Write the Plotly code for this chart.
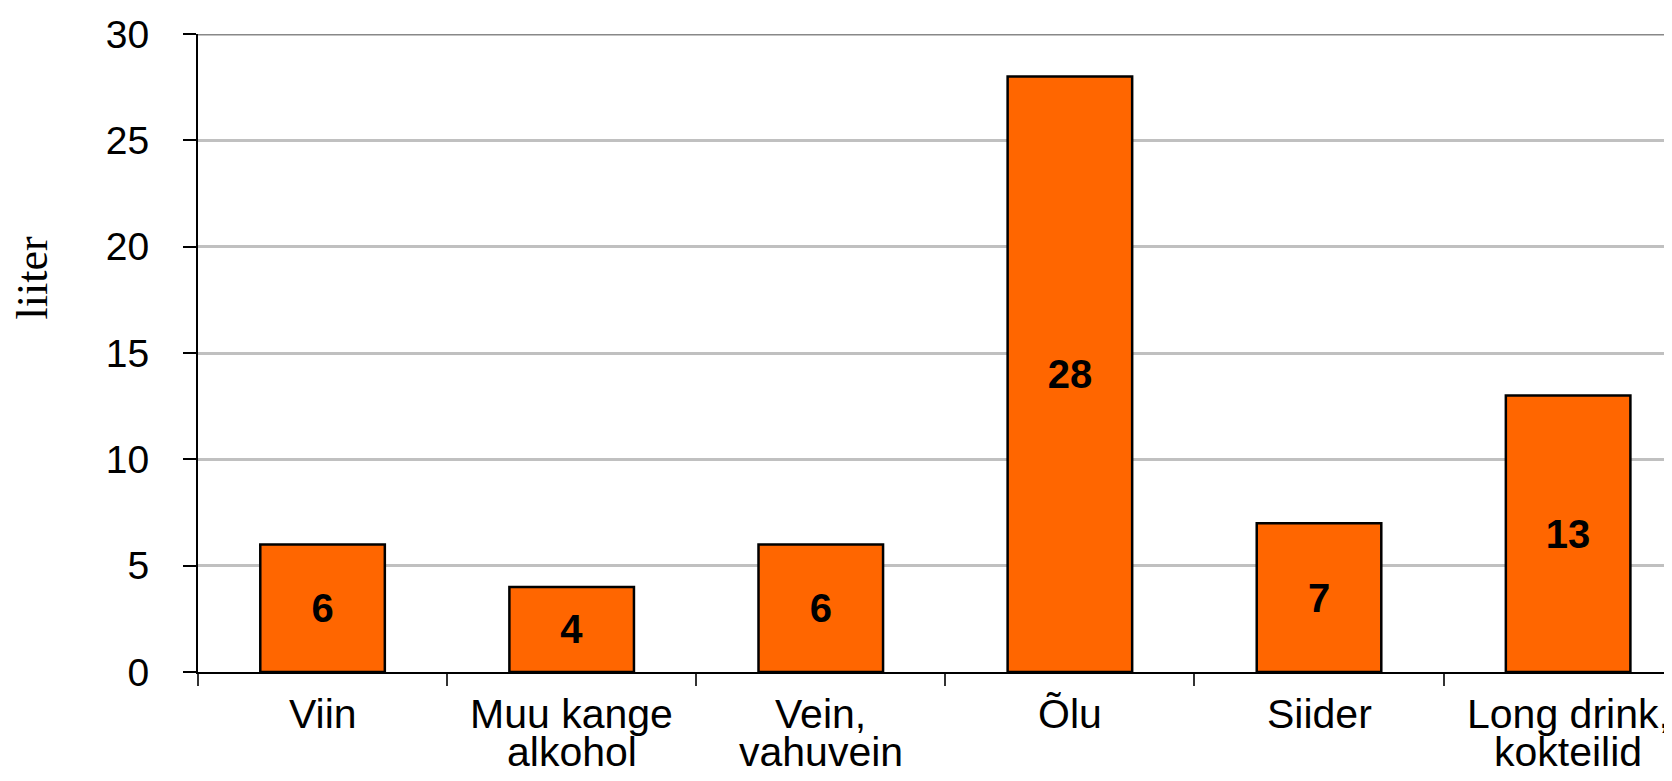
import plotly.graph_objects as go

categories = ["Viin", "Muu kange alkohol", "Vein, vahuvein", "Õlu", "Siider", "Long drink, kokteilid"]
label_line1 = ["Viin", "Muu kange", "Vein,", "Õlu", "Siider", "Long drink,"]
label_line2 = ["", "alkohol", "vahuvein", "", "", "kokteilid"]
values = [6, 4, 6, 28, 7, 13]
y_ticks = [0, 5, 10, 15, 20, 25, 30]

fig = go.Figure()
fig.add_trace(go.Bar(
    x=categories, y=values,
    marker=dict(color="#FF6600", line=dict(color="black", width=2.5)),
    text=[str(v) for v in values],
    texttemplate="<b>%{text}</b>",
    textposition="inside", insidetextanchor="middle", textangle=0,
    textfont=dict(family="Liberation Sans, Arial", size=40, color="black"),
    constraintext="none",
    width=0.5,
    hoverinfo="skip",
))

annotations = []
for c, l1, l2 in zip(categories, label_line1, label_line2):
    annotations.append(dict(x=c, xref="x", y=0, yref="y", text=l1, showarrow=False,
                            yanchor="top", yshift=-17,
                            font=dict(family="Liberation Sans, Arial", size=41, color="black")))
    if l2:
        annotations.append(dict(x=c, xref="x", y=0, yref="y", text=l2, showarrow=False,
                                yanchor="top", yshift=-55,
                                font=dict(family="Liberation Sans, Arial", size=41, color="black")))
annotations.append(dict(x=-0.1126, xref="paper", y=0.617, yref="paper", text="liiter",
                        showarrow=False, textangle=-90, xanchor="center", yanchor="middle",
                        font=dict(family="Liberation Serif, Times New Roman", size=44, color="black")))

fig.update_layout(
    width=1664, height=773,
    margin=dict(l=190, r=0, t=26, b=109),
    paper_bgcolor="white", plot_bgcolor="white",
    showlegend=False,
    annotations=annotations,
    xaxis=dict(range=[-0.5, 5.417], showticklabels=False, ticks="outside", tickson="boundaries",
               ticklen=12, tickcolor="#333333", tickwidth=1.5, showgrid=False,
               showline=True, linecolor="black", linewidth=2, zeroline=False),
    yaxis=dict(range=[0, 30], tickvals=y_ticks, ticks="outside", ticklen=13, tickcolor="black",
               tickwidth=1.5, showline=True, linecolor="black", linewidth=2,
               gridcolor="#C0C0C0", gridwidth=2.5, zeroline=False,
               ticklabelstandoff=26,
               tickfont=dict(family="Liberation Sans, Arial", size=39, color="black")),
    shapes=[dict(type="line", xref="paper", x0=0, x1=1, yref="y", y0=30, y1=30,
                 line=dict(color="#888888", width=3), layer="above")],
)

fig.write_html("out.html")
